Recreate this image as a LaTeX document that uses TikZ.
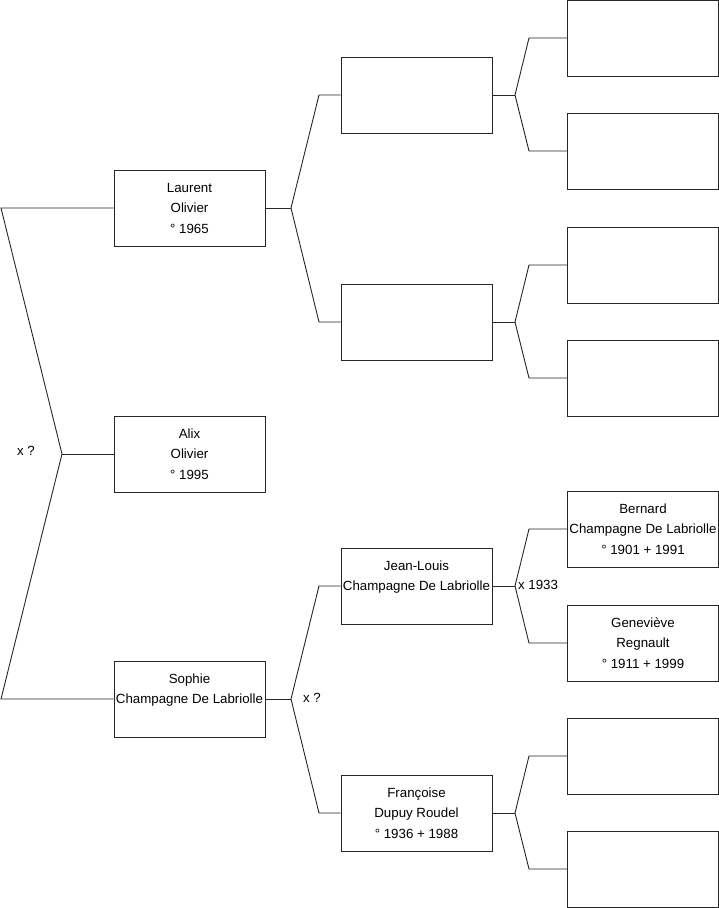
\documentclass[tikz,border=0pt]{standalone}
\usepackage{fontspec}
\setmainfont{Liberation Sans}
\begin{document}
\begin{tikzpicture}[x=1pt,y=-1pt,
  pbox/.style={draw=black!85,line width=0.9pt,fill=white,minimum width=151pt,minimum height=76pt,inner sep=0pt,align=center,font=\fontsize{13.3}{20.5}\selectfont},
  conn/.style={draw=black!85,line width=0.9pt},
  lbl/.style={font=\fontsize{13.3}{16}\selectfont,inner sep=0pt}]
\useasboundingbox (0,0) rectangle (719,908);
% level 1
\node[pbox] (p1) at (189.5,208) {Laurent\\Olivier\\° 1965};
\node[pbox] (p0) at (189.5,454) {Alix\\Olivier\\° 1995};
\node[pbox] (p2) at (189.5,699) {Sophie\\Champagne De Labriolle\\~};
% level 2
\node[pbox] (f1) at (416.5,95) {};
\node[pbox] (m1) at (416.5,322) {};
\node[pbox] (f2) at (416.5,586) {Jean-Louis\\Champagne De Labriolle\\~};
\node[pbox] (m2) at (416.5,813) {Françoise\\Dupuy Roudel\\° 1936 + 1988};
% level 3
\node[pbox] (g1) at (643,38) {};
\node[pbox] (g2) at (643,151) {};
\node[pbox] (g3) at (643,265) {};
\node[pbox] (g4) at (643,378) {};
\node[pbox] (g5) at (643,529) {Bernard\\Champagne De Labriolle\\° 1901 + 1991};
\node[pbox] (g6) at (643,643) {Geneviève\\Regnault\\° 1911 + 1999};
\node[pbox] (g7) at (643,756) {};
\node[pbox] (g8) at (643,869) {};
% root connector
\coordinate (ra) at (1,208);
\coordinate (rj) at (62,454);
\coordinate (rb) at (1,699);
\draw[conn] (p1.west) -- (ra) -- (rj) -- (rb) -- (p2.west);
\draw[conn] (rj) -- (p0.west);
\node[lbl] (x0) at (26,451) {x ?};
% level 1 to 2
\coordinate (j1) at (291,208);
\coordinate (j1a) at (319,95);
\coordinate (j1b) at (319,322);
\draw[conn] (p1.east) -- (j1);
\draw[conn] (f1.west) -- (j1a) -- (j1) -- (j1b) -- (m1.west);
\coordinate (j2) at (291,699);
\coordinate (j2a) at (319,586);
\coordinate (j2b) at (319,813);
\draw[conn] (p2.east) -- (j2);
\draw[conn] (f2.west) -- (j2a) -- (j2) -- (j2b) -- (m2.west);
\node[lbl] (x2) at (312,698) {x ?};
% level 2 to 3
\foreach \s/\a/\b/\ys/\ya/\yb in {f1/g1/g2/95/38/151, m1/g3/g4/322/265/378, f2/g5/g6/586/529/643, m2/g7/g8/813/756/869}{
  \coordinate (J\s) at (515,\ys);
  \coordinate (A\s) at (529,\ya);
  \coordinate (B\s) at (529,\yb);
  \draw[conn] (\s.east) -- (J\s);
  \draw[conn] (\a.west) -- (A\s) -- (J\s) -- (B\s) -- (\b.west);
}
\node[lbl] (x3) at (538,585) {x 1933};
\end{tikzpicture}
\end{document}
